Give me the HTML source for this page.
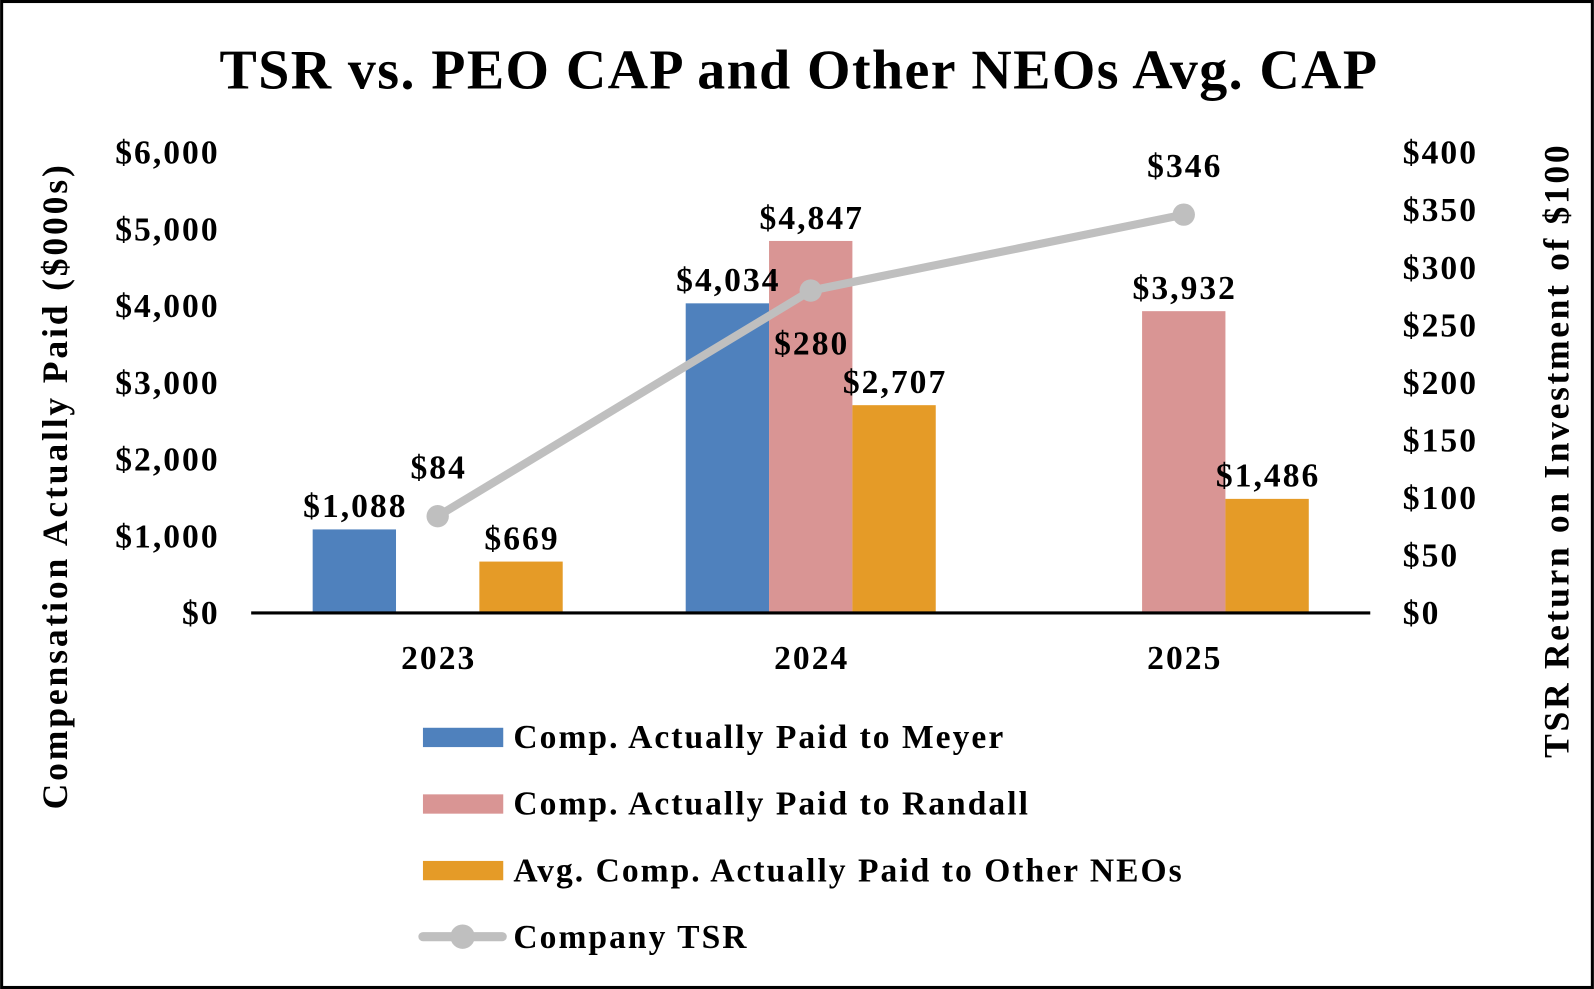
<!DOCTYPE html>
<html><head><meta charset="utf-8"><style>
html,body{margin:0;padding:0;background:#fff}
svg{display:block}
text{font-family:"Liberation Serif",serif;font-weight:bold;fill:#000}
</style></head><body>
<svg id="chart" width="1594" height="989" viewBox="0 0 1568 973" xmlns="http://www.w3.org/2000/svg">
<rect x="1.5" y="1.5" width="1565" height="970" fill="#fff" stroke="#000" stroke-width="3"/>
<text x="786" y="87" font-size="55" letter-spacing="1.4" text-anchor="middle">TSR vs. PEO CAP and Other NEOs Avg. CAP</text>
<text transform="translate(66,478) rotate(-90)" font-size="35" letter-spacing="2.8" text-anchor="middle">Compensation Actually Paid ($000s)</text>
<text transform="translate(1543,443) rotate(-90)" font-size="35" letter-spacing="2.6" text-anchor="middle">TSR Return on Investment of $100</text>
<g id="plot"></g>
<g id="labels"></g>
<g id="legend"></g>
</svg>
<script>
const categories = ["2023","2024","2025"];
const meyer = [1088, 4034, null];
const randall = [null, 4847, 3932];
const others = [669, 2707, 1486];
const tsr = [84, 280, 346];
const leftTicks = [0,1000,2000,3000,4000,5000,6000];
const rightTicks = [0,50,100,150,200,250,300,350,400];
const tsrLabelBelow = [false, true, false];

const NS="http://www.w3.org/2000/svg";
const plot=document.getElementById('plot');
const labels=document.getElementById('labels');
const X0=247,X1=1348,Y0=603,Y1=150;
const yL=v=>Y0-(v/6000)*(Y0-Y1);
const yR=v=>Y0-(v/400)*(Y0-Y1);
const xC=i=>X0+(X1-X0)*(i+0.5)/categories.length;
const BW=82;
const FS=33, LS=2;
function mk(tag,attrs,parent){const e=document.createElementNS(NS,tag);for(const k in attrs)e.setAttribute(k,attrs[k]);(parent||plot).appendChild(e);return e;}
function fmt(v){return '$'+v.toLocaleString('en-US');}

leftTicks.forEach(v=>{const t=mk('text',{x:216,y:yL(v)+11,'font-size':FS,'letter-spacing':LS,'text-anchor':'end'});t.textContent=fmt(v);

});
rightTicks.forEach(v=>{const t=mk('text',{x:1380,y:yR(v)+11,'font-size':FS,'letter-spacing':LS});t.textContent=fmt(v);

});
categories.forEach((c,i)=>{const t=mk('text',{x:xC(i)+1,y:658,'font-size':FS,'letter-spacing':LS,'text-anchor':'middle'});t.textContent=c;

});

const series=[[meyer,'#4F81BD',-1,'meyer'],[randall,'#D99594',0,'randall'],[others,'#E59B27',1,'other-neos']];
series.forEach(([arr,col,off,nm])=>{arr.forEach((v,i)=>{if(v==null)return;
 const x=xC(i)+off*BW-BW/2;const r=mk('rect',{x:x,y:yL(v),width:BW,height:Y0-yL(v),fill:col});
 
 
 const t=mk('text',{x:x+BW/2+1,y:yL(v)-12,'font-size':FS,'letter-spacing':LS,'text-anchor':'middle'},labels);t.textContent=fmt(v);
 
 });});

const ax=mk('line',{x1:X0,x2:X1,y1:Y0,y2:Y0,stroke:'#000','stroke-width':3});



const pts=tsr.map((v,i)=>xC(i)+','+yR(v)).join(' ');
const pl=mk('polyline',{points:pts,fill:'none',stroke:'#BFBFBF','stroke-width':8,'stroke-linecap':'round'});


tsr.forEach((v,i)=>{const c=mk('circle',{cx:xC(i),cy:yR(v),r:11,fill:'#BFBFBF'});
 
 
 const t=mk('text',{x:xC(i)+1,y:tsrLabelBelow[i]?yR(v)+63:yR(v)-37,'font-size':FS,'letter-spacing':LS,'text-anchor':'middle'},labels);t.textContent=fmt(v);
 
 });

const lg=document.getElementById('legend');
const items=[['Comp. Actually Paid to Meyer','#4F81BD','bar'],['Comp. Actually Paid to Randall','#D99594','bar'],['Avg. Comp. Actually Paid to Other NEOs','#E59B27','bar'],['Company TSR','#BFBFBF','line']];
items.forEach(([lab,col,kind],k)=>{const cy=725+k*65.5;
 if(kind==='bar'){const r=mk('rect',{x:416,y:cy-9,width:79,height:19,fill:col},lg);
  
  }
 else{const l=mk('line',{x1:416,x2:494,y1:cy,y2:cy,stroke:col,'stroke-width':9,'stroke-linecap':'round'},lg);
  
  
  mk('circle',{cx:455,cy:cy,r:12,fill:col},lg);}
 const t=mk('text',{x:505,y:cy+11,'font-size':FS,'letter-spacing':LS},lg);t.textContent=lab;
 
 });
</script>
</body></html>
